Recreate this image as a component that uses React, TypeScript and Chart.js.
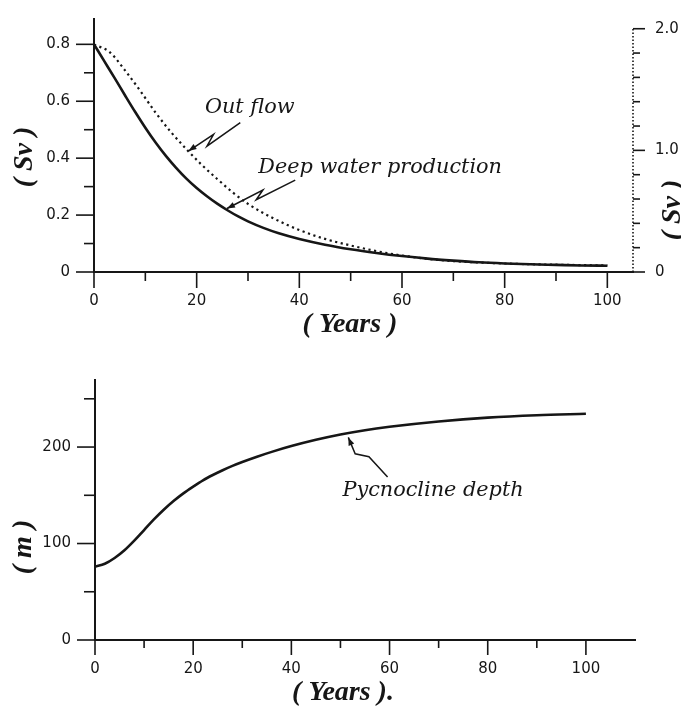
import React, { useEffect, useRef } from "react";
import { Chart, registerables } from "chart.js";

Chart.register(...registerables);

// ---------- Top panel data ----------
const deepYears = [0, 2, 4, 6, 8, 10, 12, 14, 16, 18, 20, 22, 24, 26, 28, 30, 33, 36, 40, 45, 50, 55, 60, 65, 70, 75, 80, 85, 90, 95, 100];
const deepWater = [0.8, 0.741, 0.682, 0.622, 0.563, 0.507, 0.455, 0.408, 0.366, 0.328, 0.295, 0.266, 0.24, 0.217, 0.196, 0.178, 0.155, 0.136, 0.116, 0.096, 0.08, 0.067, 0.056, 0.047, 0.04, 0.034, 0.03, 0.027, 0.025, 0.023, 0.022];

const outflowYears = [0, 3, 6, 9, 12, 15, 18, 21, 24, 27, 30, 35, 40, 45, 50, 55, 60, 65, 70, 80, 90, 100];
const outflow = [1.87, 1.81, 1.66, 1.49, 1.31, 1.15, 1.01, 0.88, 0.765, 0.655, 0.56, 0.44, 0.345, 0.272, 0.218, 0.172, 0.135, 0.108, 0.09, 0.07, 0.06, 0.054];

const topXTicks = [0, 10, 20, 30, 40, 50, 60, 70, 80, 90, 100];
const topXMajor = [0, 20, 40, 60, 80, 100];
const leftSvTicks = [0, 0.1, 0.2, 0.3, 0.4, 0.5, 0.6, 0.7, 0.8];
const leftSvMajor = [0, 0.2, 0.4, 0.6, 0.8];
const leftSvLabels = ["0", "0.2", "0.4", "0.6", "0.8"];
const rightSvTicks = [0, 0.2, 0.4, 0.6, 0.8, 1.0, 1.2, 1.4, 1.6, 1.8, 2.0];
const rightSvMajor = [0, 1.0, 2.0];
const rightSvLabels = ["0", "1.0", "2.0"];

// ---------- Bottom panel data ----------
const pycYears = [0, 2, 4, 6, 8, 10, 12, 14, 16, 18, 20, 22, 24, 26, 28, 30, 33, 36, 40, 45, 50, 55, 60, 70, 80, 90, 100];
const pycnocline = [76, 79, 85, 93, 103, 114, 125, 135, 144, 152, 159, 165.5, 171, 176, 180.5, 184.5, 190, 195, 201, 207.5, 213, 217.5, 221, 226.5, 230.5, 233, 234.5];

const botXTicks = [0, 10, 20, 30, 40, 50, 60, 70, 80, 90, 100];
const botXMajor = [0, 20, 40, 60, 80, 100];
const mTicks = [0, 50, 100, 150, 200, 250];
const mMajor = [0, 100, 200];
const mLabels = ["0", "100", "200"];

// ---------- Annotations (data units) ----------
const outflowLabel = { text: "Out flow", x: 21.6, y: 0.557 };
const outflowBolt = [[28.5, 0.525], [22.0, 0.442], [23.3, 0.484], [18.4, 0.425]];
const deepLabel = { text: "Deep water production", x: 32.0, y: 0.347 };
const deepBolt = [[39.2, 0.323], [31.6, 0.254], [32.9, 0.288], [25.9, 0.223]];
const pycLabel = { text: "Pycnocline depth", x: 50.4, y: 149 };
const pycBolt = [[59.6, 169], [55.8, 190], [53.0, 193], [51.6, 210]];

const INK = "#161616";
const TICK_FONT = { family: "'DejaVu Sans'", size: 15 };
const TITLE_FONT = "bold italic 28px 'Liberation Serif'";
const NOTE_FONT = "italic 20.8px 'DejaVu Serif'";

const near = (a: number[], v: number) => a.findIndex((m) => Math.abs(m - v) < 1e-9);

function pts(xs: number[], ys: number[]) {
  return xs.map((x, i) => ({ x, y: ys[i] }));
}

function tickMarks(chart: any, axis: string, values: number[], major: number[], majLen: number, minLen: number, side: string) {
  const s = chart.scales[axis];
  const ctx = chart.ctx;
  ctx.save();
  ctx.strokeStyle = INK;
  ctx.lineWidth = 1.6;
  for (const v of values) {
    const len = near(major, v) >= 0 ? majLen : minLen;
    const p = s.getPixelForValue(v);
    ctx.beginPath();
    if (side === "left") {
      ctx.moveTo(s.right - len, p);
      ctx.lineTo(s.right, p);
    } else if (side === "right") {
      ctx.moveTo(s.left, p);
      ctx.lineTo(s.left + len, p);
    } else {
      ctx.moveTo(p, s.top);
      ctx.lineTo(p, s.top + len);
    }
    ctx.stroke();
  }
  ctx.restore();
}

function bolt(chart: any, yAxis: string, points: number[][]) {
  const xs = chart.scales.x;
  const ys = chart.scales[yAxis];
  const p = points.map(([x, y]) => [xs.getPixelForValue(x), ys.getPixelForValue(y)]);
  const ctx = chart.ctx;
  ctx.save();
  ctx.strokeStyle = INK;
  ctx.fillStyle = INK;
  ctx.lineWidth = 1.5;
  ctx.beginPath();
  ctx.moveTo(p[0][0], p[0][1]);
  for (let i = 1; i < p.length; i++) ctx.lineTo(p[i][0], p[i][1]);
  ctx.stroke();
  const [tx, ty] = p[p.length - 1];
  const [fx, fy] = p[p.length - 2];
  const ang = Math.atan2(ty - fy, tx - fx);
  const L = 8, W = 3;
  ctx.beginPath();
  ctx.moveTo(tx, ty);
  ctx.lineTo(tx - L * Math.cos(ang) + W * Math.sin(ang), ty - L * Math.sin(ang) - W * Math.cos(ang));
  ctx.lineTo(tx - L * Math.cos(ang) - W * Math.sin(ang), ty - L * Math.sin(ang) + W * Math.cos(ang));
  ctx.closePath();
  ctx.fill();
  ctx.restore();
}

function note(chart: any, yAxis: string, lab: { text: string; x: number; y: number }) {
  const ctx = chart.ctx;
  ctx.save();
  ctx.font = NOTE_FONT;
  ctx.fillStyle = INK;
  ctx.textAlign = "left";
  ctx.textBaseline = "alphabetic";
  ctx.fillText(lab.text, chart.scales.x.getPixelForValue(lab.x), chart.scales[yAxis].getPixelForValue(lab.y));
  ctx.restore();
}

function title(ctx: CanvasRenderingContext2D, text: string, x: number, y: number, rot: number) {
  ctx.save();
  ctx.font = TITLE_FONT;
  ctx.fillStyle = INK;
  ctx.textAlign = "center";
  ctx.textBaseline = "middle";
  ctx.translate(x, y);
  ctx.rotate(rot);
  ctx.fillText(text, 0, 0);
  ctx.restore();
}

function fixed(values: number[]) {
  return (scale: any) => {
    scale.ticks = values.map((v) => ({ value: v }));
  };
}

function labeler(major: number[], labels: string[]) {
  return (v: any) => {
    const i = near(major, Number(v));
    return i >= 0 ? labels[i] : "";
  };
}

const gridOpts = (len: number) => ({
  display: true,
  drawOnChartArea: false,
  drawTicks: true,
  tickLength: len,
  tickColor: "rgba(0,0,0,0)",
});

export default function App() {
  const topRef = useRef<HTMLCanvasElement>(null);
  const botRef = useRef<HTMLCanvasElement>(null);

  useEffect(() => {
    const topPlugin = {
      id: "topDecor",
      afterDraw(chart: any) {
        const ctx = chart.ctx;
        tickMarks(chart, "y", leftSvTicks, leftSvMajor, 18, 10, "left");
        tickMarks(chart, "x", topXTicks, topXMajor, 16, 9, "bottom");
        tickMarks(chart, "y2", rightSvTicks, rightSvMajor, 12, 7, "right");
        const r = chart.scales.y2;
        ctx.save();
        ctx.strokeStyle = INK;
        ctx.lineWidth = 1.6;
        ctx.setLineDash([1.5, 2]);
        ctx.beginPath();
        ctx.moveTo(r.left, r.getPixelForValue(0));
        ctx.lineTo(r.left, r.getPixelForValue(2.0));
        ctx.stroke();
        ctx.restore();
        bolt(chart, "y", outflowBolt);
        bolt(chart, "y", deepBolt);
        note(chart, "y", outflowLabel);
        note(chart, "y", deepLabel);
        title(ctx, "( Sv )", 25, 157, -Math.PI / 2);
        title(ctx, "( Sv )", 673, 210, -Math.PI / 2);
        title(ctx, "( Years )", 350, 325, 0);
      },
    };

    const top = new Chart(topRef.current!, {
      type: "line",
      data: {
        datasets: [
          {
            label: "Deep water production",
            data: pts(deepYears, deepWater),
            yAxisID: "y",
            borderColor: INK,
            borderWidth: 2.6,
            pointRadius: 0,
            cubicInterpolationMode: "monotone",
            fill: false,
          },
          {
            label: "Out flow",
            data: pts(outflowYears, outflow),
            yAxisID: "y2",
            borderColor: INK,
            borderWidth: 2.2,
            borderDash: [2.2, 3.5],
            pointRadius: 0,
            cubicInterpolationMode: "monotone",
            fill: false,
          },
        ],
      },
      options: {
        responsive: false,
        animation: false,
        devicePixelRatio: 1,
        layout: { padding: { top: 13, left: 0, right: 0, bottom: 0 } },
        plugins: { legend: { display: false }, tooltip: { enabled: false } },
        scales: {
          x: {
            type: "linear",
            min: 0,
            max: 105,
            afterBuildTicks: fixed(topXTicks),
            afterFit: (s: any) => { s.height = 78; },
            grid: gridOpts(16),
            border: { display: true, color: INK, width: 2 },
            ticks: { autoSkip: false, maxRotation: 0, padding: 4, color: INK, font: TICK_FONT, callback: labeler(topXMajor, topXMajor.map(String)) },
          },
          y: {
            type: "linear",
            position: "left",
            min: 0,
            max: 0.889,
            afterBuildTicks: fixed(leftSvTicks),
            afterFit: (s: any) => { s.width = 94; },
            grid: gridOpts(18),
            border: { display: true, color: INK, width: 2 },
            ticks: { autoSkip: false, padding: 6, color: INK, font: TICK_FONT, callback: labeler(leftSvMajor, leftSvLabels) },
          },
          y2: {
            type: "linear",
            position: "right",
            min: 0,
            max: 2.08,
            afterBuildTicks: fixed(rightSvTicks),
            afterFit: (s: any) => { s.width = 48; },
            grid: gridOpts(12),
            border: { display: false },
            ticks: { autoSkip: false, padding: 10, color: INK, font: TICK_FONT, callback: labeler(rightSvMajor, rightSvLabels) },
          },
        },
      },
      plugins: [topPlugin],
    } as any);

    const botPlugin = {
      id: "botDecor",
      afterDraw(chart: any) {
        const ctx = chart.ctx;
        tickMarks(chart, "y", mTicks, mMajor, 18, 11, "left");
        tickMarks(chart, "x", botXTicks, botXMajor, 15, 8, "bottom");
        bolt(chart, "y", pycBolt);
        note(chart, "y", pycLabel);
        title(ctx, "( m )", 24, 197, -Math.PI / 2);
        title(ctx, "( Years ).", 343, 343, 0);
      },
    };

    const bot = new Chart(botRef.current!, {
      type: "line",
      data: {
        datasets: [
          {
            label: "Pycnocline depth",
            data: pts(pycYears, pycnocline),
            borderColor: INK,
            borderWidth: 2.6,
            pointRadius: 0,
            cubicInterpolationMode: "monotone",
            fill: false,
          },
        ],
      },
      options: {
        responsive: false,
        animation: false,
        devicePixelRatio: 1,
        layout: { padding: { top: 30, left: 0, right: 46, bottom: 0 } },
        plugins: { legend: { display: false }, tooltip: { enabled: false } },
        scales: {
          x: {
            type: "linear",
            min: 0,
            max: 110,
            afterBuildTicks: fixed(botXTicks),
            afterFit: (s: any) => { s.height = 68; },
            grid: gridOpts(15),
            border: { display: true, color: INK, width: 2 },
            ticks: { autoSkip: false, maxRotation: 0, padding: 5, color: INK, font: TICK_FONT, callback: labeler(botXMajor, botXMajor.map(String)) },
          },
          y: {
            type: "linear",
            position: "left",
            min: 0,
            max: 269.5,
            afterBuildTicks: fixed(mTicks),
            afterFit: (s: any) => { s.width = 95; },
            grid: gridOpts(18),
            border: { display: true, color: INK, width: 2 },
            ticks: { autoSkip: false, padding: 6, color: INK, font: TICK_FONT, callback: labeler(mMajor, mLabels) },
          },
        },
      },
      plugins: [botPlugin],
    } as any);

    return () => {
      top.destroy();
      bot.destroy();
    };
  }, []);

  return (
    <div style={{ position: "absolute", left: 0, top: 0, width: 681, height: 708, background: "#fff" }}>
      <canvas ref={topRef} width={681} height={350} style={{ position: "absolute", left: 0, top: 0, width: 681, height: 350 }} />
      <canvas ref={botRef} width={681} height={358} style={{ position: "absolute", left: 0, top: 350, width: 681, height: 358 }} />
    </div>
  );
}
